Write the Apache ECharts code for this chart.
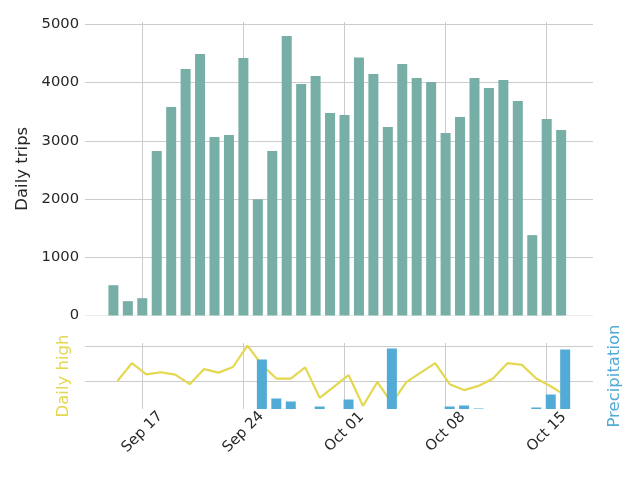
<!DOCTYPE html>
<html>
<head>
<meta charset="utf-8">
<script src="https://cdn.jsdelivr.net/npm/echarts@6/dist/echarts.min.js"></script>
<style>html,body{margin:0;padding:0;background:#fff}#c{width:640px;height:480px}</style>
</head>
<body>
<div id="c"></div>
<script>
// ---- data ----
const dates = ['2017-09-15','2017-09-16','2017-09-17','2017-09-18','2017-09-19','2017-09-20','2017-09-21','2017-09-22',
  '2017-09-23','2017-09-24','2017-09-25','2017-09-26','2017-09-27','2017-09-28','2017-09-29','2017-09-30',
  '2017-10-01','2017-10-02','2017-10-03','2017-10-04','2017-10-05','2017-10-06','2017-10-07','2017-10-08',
  '2017-10-09','2017-10-10','2017-10-11','2017-10-12','2017-10-13','2017-10-14','2017-10-15','2017-10-16'];
const dailyTrips = [520, 246, 297, 2823, 3579, 4232, 4490, 3064, 3098, 4421, 1998, 2823, 4799, 3974, 4112, 3476,
  3442, 4432, 4146, 3235, 4318, 4077, 4009, 3132, 3407, 4077, 3905, 4043, 3682, 1380, 3373, 3184];
const dailyHigh = [70.0, 75.1, 71.9, 72.5, 71.8, 69.1, 73.4, 72.4, 74.0, 80.1, 74.6, 70.7, 70.7, 73.9, 65.2, 68.4,
  71.7, 62.9, 69.7, 63.7, 69.7, 72.4, 75.1, 69.1, 67.4, 68.6, 70.7, 75.1, 74.6, 70.7, 68.5, 65.9];
const precipitation = [0, 0, 0, 0, 0, 0, 0, 0, 0, 0, 0.99, 0.21, 0.15, 0, 0.05, 0,
  0.19, 0, 0, 1.21, 0, 0, 0, 0.05, 0.07, 0.01, 0, 0, 0, 0.03, 0.29, 1.19];
const tickDates = ['2017-09-17','2017-09-24','2017-10-01','2017-10-08','2017-10-15'];
const tickLabels = ['Sep 17','Sep 24','Oct 01','Oct 08','Oct 15'];
const tripTicks = [0, 1000, 2000, 3000, 4000, 5000];
const highGridValues = [70, 80];

// ---- helpers ----
const DAY = 86400000;
const t0 = Date.parse(dates[0]);
const dayIdx = d => Math.round((Date.parse(d) - t0) / DAY);
const xs = dates.map(dayIdx);
const tickXs = tickDates.map(dayIdx);
const WEATHER_SHIFT = 0.28;
const X_MIN = -1.967, X_MAX = 33.206;

const FONT = 'DejaVu Sans';
const TXT = '#262626';
const GRID = '#cccccc';
const C_TRIPS = '#77aea5', C_HIGH = '#e3d84f', C_PRECIP = '#52abd6';

const labelFor = v => {
  const i = tickXs.findIndex(t => Math.abs(t - v) < 1e-6);
  return i >= 0 ? tickLabels[i] : '';
};

const xCommon = {
  type: 'value', min: X_MIN, max: X_MAX,
  axisLine: {show: false},
  axisTick: {show: false, customValues: tickXs},
  splitLine: {show: true, lineStyle: {color: GRID, width: 1}}
};

const chart = echarts.init(document.getElementById('c'), null, {renderer: 'canvas'});
chart.setOption({
  animation: false,
  backgroundColor: '#fff',
  textStyle: {fontFamily: FONT},
  grid: [
    {left: 85, right: 47, top: 22, height: 293.5},
    {left: 85, right: 47, top: 343, height: 66}
  ],
  xAxis: [
    Object.assign({}, xCommon, {gridIndex: 0, axisLabel: {show: false, customValues: tickXs}}),
    Object.assign({}, xCommon, {gridIndex: 1,
      axisLabel: {show: true, customValues: tickXs, rotate: 45, align: 'center', verticalAlign: 'middle',
        margin: 23, fontSize: 14.7, color: TXT, fontFamily: FONT, formatter: labelFor}})
  ],
  yAxis: [
    {type: 'value', gridIndex: 0, min: 0, max: 5040,
      axisLine: {show: false}, axisTick: {show: false, customValues: tripTicks},
      axisLabel: {customValues: tripTicks, fontSize: 14.7, color: TXT, margin: 6, fontFamily: FONT,
        formatter: v => String(v)},
      splitLine: {show: true, lineStyle: {color: ['#ececec', GRID, GRID, GRID, GRID, GRID], width: 1}},
      name: 'Daily trips', nameLocation: 'middle', nameGap: 51,
      nameTextStyle: {fontSize: 16.5, color: TXT, fontFamily: FONT}},
    {type: 'value', gridIndex: 1, min: 62, max: 80.857,
      axisLine: {show: false}, axisTick: {show: false, customValues: highGridValues},
      axisLabel: {show: false, customValues: highGridValues},
      splitLine: {show: true, lineStyle: {color: GRID, width: 1}},
      name: 'Daily high', nameLocation: 'middle', nameGap: 13,
      nameTextStyle: {fontSize: 16.5, color: C_HIGH, fontFamily: FONT}},
    {type: 'value', gridIndex: 1, position: 'right', min: 0, max: 1.32,
      axisLine: {show: false}, axisTick: {show: false}, axisLabel: {show: false},
      splitLine: {show: false},
      name: 'Precipitation', nameLocation: 'middle', nameGap: 13,
      nameTextStyle: {fontSize: 16.5, color: C_PRECIP, fontFamily: FONT}}
  ],
  series: [
    {type: 'bar', xAxisIndex: 0, yAxisIndex: 0, barWidth: 10,
      itemStyle: {color: C_TRIPS}, data: xs.map((x, i) => [x, dailyTrips[i]])},
    {type: 'line', xAxisIndex: 1, yAxisIndex: 1, z: 1, symbol: 'none',
      lineStyle: {color: C_HIGH, width: 2.2}, data: xs.map((x, i) => [x + WEATHER_SHIFT, dailyHigh[i]])},
    {type: 'bar', xAxisIndex: 1, yAxisIndex: 2, z: 3, barWidth: 10,
      itemStyle: {color: C_PRECIP}, data: xs.map((x, i) => [x + WEATHER_SHIFT, precipitation[i]])}
  ]
});
</script>
</body>
</html>
